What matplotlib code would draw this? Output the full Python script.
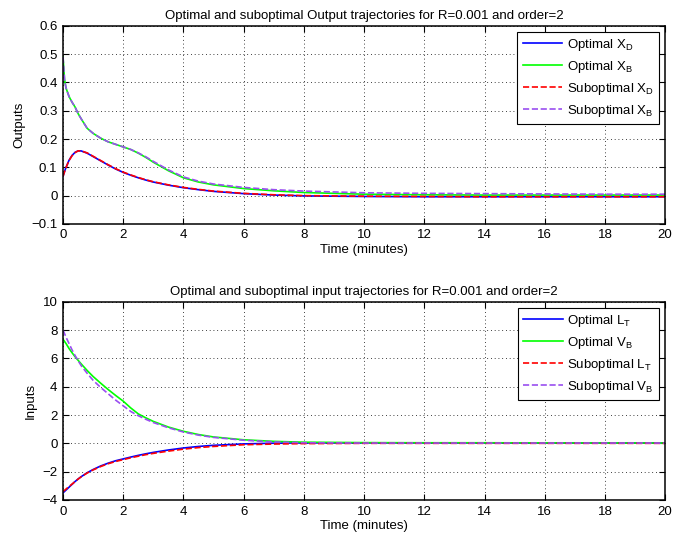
import matplotlib
matplotlib.use('Agg')
import matplotlib.pyplot as plt

plt.rcParams['font.family'] = ['Liberation Sans', 'DejaVu Sans']
plt.rcParams['mathtext.fontset'] = 'custom'
plt.rcParams['mathtext.rm'] = 'Liberation Sans'
plt.rcParams['mathtext.it'] = 'Liberation Sans'

# time grid (minutes)
t = [0, 0.05, 0.1, 0.2, 0.3, 0.4, 0.5, 0.6, 0.8, 1.0, 1.25, 1.5, 1.75, 2.0,
     2.25, 2.5, 2.75, 3.0, 3.5, 4.0, 4.5, 5, 6, 7, 8, 10, 12, 14, 16, 18, 20]

# outputs
xd_opt = [0.068, 0.085, 0.1, 0.125, 0.142, 0.153, 0.158, 0.158, 0.15, 0.138,
          0.123, 0.108, 0.094, 0.082, 0.072, 0.063, 0.055, 0.048, 0.037, 0.028,
          0.021, 0.015, 0.007, 0.002, -0.001, -0.003, -0.004, -0.004, -0.004,
          -0.004, -0.004]
xb_opt = [0.49, 0.41, 0.38, 0.35, 0.33, 0.313, 0.29, 0.272, 0.238, 0.22,
          0.203, 0.19, 0.181, 0.172, 0.163, 0.15, 0.135, 0.118, 0.088, 0.063,
          0.048, 0.038, 0.025, 0.017, 0.011, 0.005, 0.003, 0.002, 0.002,
          0.002, 0.002]
xd_sub = [0.068, 0.084, 0.099, 0.124, 0.141, 0.152, 0.158, 0.158, 0.151, 0.139,
          0.124, 0.109, 0.095, 0.083, 0.073, 0.064, 0.056, 0.049, 0.038, 0.029,
          0.022, 0.016, 0.008, 0.003, 0.0, -0.002, -0.003, -0.004, -0.004,
          -0.004, -0.004]
xb_sub = [0.49, 0.41, 0.38, 0.35, 0.33, 0.313, 0.29, 0.272, 0.238, 0.22,
          0.203, 0.19, 0.181, 0.172, 0.163, 0.151, 0.137, 0.121, 0.091, 0.066,
          0.051, 0.041, 0.029, 0.021, 0.016, 0.01, 0.008, 0.007, 0.006,
          0.005, 0.005]

# inputs
lt_opt = [-3.5, -3.4, -3.3, -3.1, -2.9, -2.7, -2.52, -2.36, -2.08, -1.85,
          -1.6, -1.4, -1.23, -1.1, -0.97, -0.85, -0.74, -0.64, -0.47, -0.33,
          -0.22, -0.14, -0.04, 0.01, 0.03, 0.03, 0.03, 0.03, 0.02, 0.02, 0.02]
vb_opt = [7.35, 7.2, 7.05, 6.7, 6.4, 6.12, 5.87, 5.62, 5.15, 4.72,
          4.25, 3.8, 3.38, 2.98, 2.5, 2.08, 1.8, 1.55, 1.15, 0.85,
          0.62, 0.45, 0.25, 0.14, 0.08, 0.05, 0.04, 0.04, 0.03, 0.02, 0.02]
lt_sub = [-3.4, -3.32, -3.23, -3.05, -2.88, -2.7, -2.53, -2.37, -2.1, -1.88,
          -1.64, -1.44, -1.28, -1.15, -1.02, -0.91, -0.8, -0.71, -0.55, -0.41,
          -0.3, -0.22, -0.1, -0.05, -0.02, 0.0, 0.0, 0.0, 0.0, 0.0, 0.0]
vb_sub = [8.0, 7.75, 7.5, 7.05, 6.6, 6.2, 5.85, 5.5, 4.95, 4.45,
          3.95, 3.5, 3.05, 2.65, 2.25, 1.95, 1.7, 1.47, 1.1, 0.8,
          0.58, 0.42, 0.22, 0.1, 0.04, 0.02, 0.02, 0.02, 0.02, 0.02, 0.02]

BLUE = '#0000ff'
GREEN = '#00ff00'
RED = '#ff0000'
PURPLE = '#9a4ff0'
FS = 9.5


def style(ax, ylim, yticks):
    ax.set_xlim(0, 20)
    ax.set_ylim(*ylim)
    ax.set_xticks(range(0, 21, 2))
    ax.set_yticks(yticks)
    ax.grid(True, linestyle=(0, (1, 3.5)), color='k', linewidth=0.6)
    ax.tick_params(direction='in', top=True, right=True, labelsize=FS,
                   length=4, width=0.8, pad=4)
    for s in ax.spines.values():
        s.set_linewidth(1.1)
    ax.set_xlabel('Time (minutes)', fontsize=FS, labelpad=2)
    leg = ax.legend(loc='upper right', fontsize=FS, fancybox=False,
                    framealpha=1, edgecolor='k', borderaxespad=0.45,
                    handlelength=3.0, handletextpad=0.35, labelspacing=0.45)
    leg.get_frame().set_linewidth(0.8)


fig = plt.figure(figsize=(6.85, 5.37), dpi=100)
ax1 = fig.add_axes([0.092, 0.583, 0.879, 0.369])
ax2 = fig.add_axes([0.092, 0.069, 0.879, 0.369])

lw = 1.2
ax1.plot(t, xd_opt, color=BLUE, lw=lw, label=r'Optimal $\mathregular{X_D}$')
ax1.plot(t, xb_opt, color=GREEN, lw=lw, label=r'Optimal $\mathregular{X_B}$')
ax1.plot(t, xd_sub, color=RED, lw=lw, ls='--', label=r'Suboptimal $\mathregular{X_D}$')
ax1.plot(t, xb_sub, color=PURPLE, lw=lw, ls='--', label=r'Suboptimal $\mathregular{X_B}$')
ax1.set_title('Optimal and suboptimal Output trajectories for R=0.001 and order=2',
              fontsize=FS, pad=5)
ax1.set_ylabel('Outputs', fontsize=FS, labelpad=4)
style(ax1, (-0.1, 0.6), [-0.1, 0, 0.1, 0.2, 0.3, 0.4, 0.5, 0.6])
ax1.set_yticklabels(['\u22120.1', '0', '0.1', '0.2', '0.3', '0.4', '0.5', '0.6'])

ax2.plot(t, lt_opt, color=BLUE, lw=lw, label=r'Optimal $\mathregular{L_T}$')
ax2.plot(t, vb_opt, color=GREEN, lw=lw, label=r'Optimal $\mathregular{V_B}$')
ax2.plot(t, lt_sub, color=RED, lw=lw, ls='--', label=r'Suboptimal $\mathregular{L_T}$')
ax2.plot(t, vb_sub, color=PURPLE, lw=lw, ls='--', label=r'Suboptimal $\mathregular{V_B}$')
ax2.set_title('Optimal and suboptimal input trajectories for R=0.001 and order=2',
              fontsize=FS, pad=5)
ax2.set_ylabel('Inputs', fontsize=FS, labelpad=4)
style(ax2, (-4, 10), [-4, -2, 0, 2, 4, 6, 8, 10])

fig.savefig('out.png', dpi=100)
